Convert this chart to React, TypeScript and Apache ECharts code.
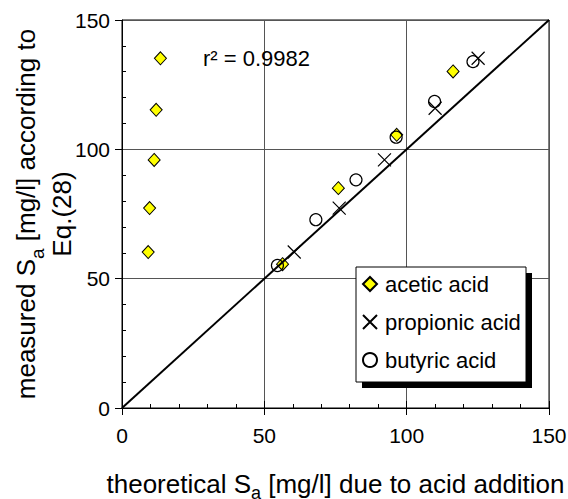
import React, { useEffect, useRef } from "react";
import * as echarts from "echarts";

const FONT = '"Liberation Sans", Arial, Helvetica, sans-serif';

const seriesNames = ["acetic acid", "propionic acid", "butyric acid"];

const aceticX = [13.5, 12.0, 11.3, 9.7, 9.2, 56.4, 76.0, 96.5, 116.3];
const aceticY = [135.2, 115.3, 95.9, 77.3, 60.3, 55.6, 85.0, 105.6, 130.1];

const propionicX = [60.5, 76.3, 92.2, 110.0, 125.1];
const propionicY = [60.3, 77.3, 95.9, 115.9, 135.2];

const butyricX = [54.6, 68.1, 82.2, 96.3, 109.8, 123.3];
const butyricY = [55.1, 72.8, 88.2, 104.7, 118.5, 133.9];

const identityLine = [
  [0, 0],
  [150, 150],
];

const axisMin = 0;
const axisMax = 150;
const axisInterval = 50;
const r2Text = "r\u00B2 = 0.9982";

const zip = (xs: number[], ys: number[]) => xs.map((x, i) => [x, ys[i]]);

export default function App() {
  const ref = useRef<HTMLDivElement>(null);

  useEffect(() => {
    document.body.style.margin = "0";
    if (!ref.current) return;
    const chart = echarts.init(ref.current, undefined, { renderer: "svg" });

    const mainAxisX = {
      type: "value",
      min: axisMin,
      max: axisMax,
      interval: axisInterval,
      position: "bottom",
      axisLine: { show: true, onZero: false, lineStyle: { color: "#000", width: 1 } },
      axisTick: { show: true, inside: false, length: 7, lineStyle: { color: "#000" } },
      axisLabel: { fontSize: 21, fontFamily: FONT, color: "#000", margin: 17 },
      splitLine: { show: true, lineStyle: { color: "#555", width: 1 } },
      name: "{t|theoretical S}{s|a}{t| [mg/l] due to acid addition}",
      nameLocation: "middle",
      nameGap: 61,
      nameMoveOverlap: false,
      nameTextStyle: {
        fontFamily: FONT,
        color: "#000",
        fontSize: 26,
        rich: {
          t: { fontSize: 26, fontFamily: FONT, color: "#000", lineHeight: 30 },
          s: { fontSize: 18, fontFamily: FONT, color: "#000", lineHeight: 30, verticalAlign: "bottom", padding: [0, 0, -3, 0] },
        },
      },
    };
    const innerAxisX = {
      type: "value",
      min: axisMin,
      max: axisMax,
      interval: axisInterval,
      position: "bottom",
      axisLine: { show: false, onZero: false },
      axisTick: { show: true, inside: true, length: 7, lineStyle: { color: "#000" } },
      minorTick: { show: true, splitNumber: 5, length: 4, lineStyle: { color: "#000" } },
      axisLabel: { show: false },
      splitLine: { show: false },
    };
    const mainAxisY = {
      type: "value",
      min: axisMin,
      max: axisMax,
      interval: axisInterval,
      position: "left",
      axisLine: { show: true, onZero: false, lineStyle: { color: "#000", width: 1 } },
      axisTick: { show: true, inside: false, length: 7, lineStyle: { color: "#000" } },
      axisLabel: { fontSize: 21, fontFamily: FONT, color: "#000", margin: 12 },
      splitLine: { show: true, lineStyle: { color: "#555", width: 1 } },
      name: "{t|measured S}{s|a}{t| [mg/l] according to}\n{t|Eq.(28)}",
      nameLocation: "middle",
      nameRotate: 90,
      nameGap: 42,
      nameMoveOverlap: false,
      nameTextStyle: {
        fontFamily: FONT,
        color: "#000",
        fontSize: 26,
        lineHeight: 36,
        rich: {
          t: { fontSize: 26, fontFamily: FONT, color: "#000", lineHeight: 36 },
          s: { fontSize: 19, fontFamily: FONT, color: "#000", lineHeight: 36, verticalAlign: "bottom", padding: [0, 0, -3, 0] },
        },
      },
    };
    const innerAxisY = {
      type: "value",
      min: axisMin,
      max: axisMax,
      interval: axisInterval,
      position: "left",
      axisLine: { show: false, onZero: false },
      axisTick: { show: false, inside: true },
      minorTick: { show: true, splitNumber: 5, length: 4, lineStyle: { color: "#000" } },
      axisLabel: { show: false },
      splitLine: { show: false },
    };

    chart.setOption({
      animation: false,
      backgroundColor: "#fff",
      textStyle: { fontFamily: FONT },
      grid: {
        left: 122,
        right: 19,
        top: 20,
        bottom: 91,
        show: true,
        borderColor: "#000",
        borderWidth: 1,
        backgroundColor: "transparent",
        outerBoundsMode: "none",
      },
      xAxis: [mainAxisX, innerAxisX],
      yAxis: [mainAxisY, innerAxisY],
      legend: {
        orient: "vertical",
        left: 357,
        top: 268,
        padding: 5,
        itemWidth: 14,
        itemHeight: 14,
        itemGap: 16,
        selectedMode: false,
        z: 10,
        data: seriesNames,
        textStyle: { fontSize: 22, fontFamily: FONT, color: "#000", padding: [0, 0, 0, 3] },
      },
      graphic: [
        {
          type: "rect",
          z: 5,
          shape: { x: 362, y: 273, width: 170, height: 115 },
          style: { fill: "#000" },
        },
        {
          type: "rect",
          z: 6,
          shape: { x: 356, y: 267, width: 170, height: 115 },
          style: { fill: "#fff", stroke: "#000", lineWidth: 1 },
        },
        {
          type: "text",
          z: 6,
          x: 203,
          y: 58,
          style: {
            text: r2Text,
            fontSize: 22,
            fontFamily: FONT,
            fill: "#000",
            verticalAlign: "middle",
            align: "left",
          },
        },
      ],
      series: [
        {
          type: "line",
          data: identityLine,
          symbol: "none",
          z: 4,
          lineStyle: { color: "#000", width: 2 },
          silent: true,
        },
        {
          name: seriesNames[0],
          type: "scatter",
          data: zip(aceticX, aceticY),
          symbol: "diamond",
          symbolSize: [12, 13],
          itemStyle: { color: "#FFFF00", borderColor: "#000", borderWidth: 1, opacity: 1 },
          z: 3,
        },
        {
          name: seriesNames[1],
          type: "scatter",
          data: zip(propionicX, propionicY),
          symbol: "path://M0,0L10,10M10,0L0,10",
          symbolSize: 13,
          itemStyle: { color: "transparent", borderColor: "#000", borderWidth: 1.2, opacity: 1 },
          z: 3,
        },
        {
          name: seriesNames[2],
          type: "scatter",
          data: zip(butyricX, butyricY),
          symbol: "circle",
          symbolSize: 12,
          itemStyle: { color: "transparent", borderColor: "#000", borderWidth: 1.2, opacity: 1 },
          z: 3,
        },
      ],
    });

    return () => chart.dispose();
  }, []);

  return <div ref={ref} style={{ width: 568, height: 499 }} />;
}
